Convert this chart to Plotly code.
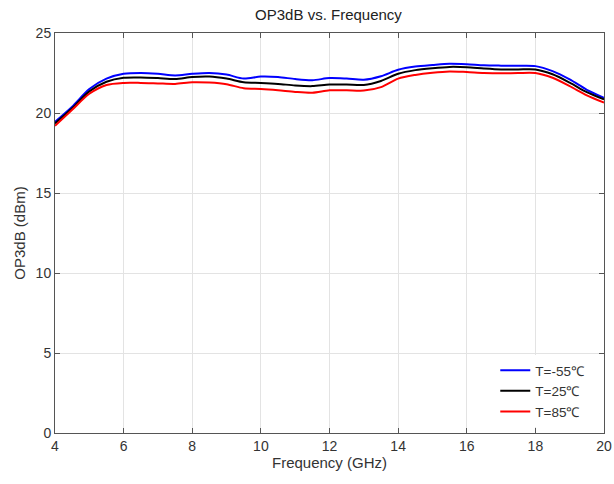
import plotly.graph_objects as go

freq = [4, 4.5, 5, 5.5, 6, 6.5, 7, 7.5, 8, 8.5, 9, 9.5, 10, 10.5, 11, 11.5, 12,
        12.5, 13, 13.5, 14, 14.5, 15, 15.5, 16, 16.5, 17, 17.5, 18, 18.5, 19, 19.5, 20]

op_m55 = [19.45, 20.4, 21.5, 22.15, 22.45, 22.5, 22.45, 22.35, 22.45, 22.5, 22.4, 22.15,
          22.28, 22.25, 22.12, 22.05, 22.18, 22.15, 22.08, 22.3, 22.7, 22.9, 23.0, 23.08,
          23.05, 22.98, 22.96, 22.95, 22.93, 22.62, 22.1, 21.45, 20.95]
op_25 = [19.35, 20.3, 21.35, 21.95, 22.2, 22.22, 22.18, 22.12, 22.25, 22.28, 22.15, 21.92,
         21.88, 21.82, 21.72, 21.68, 21.78, 21.78, 21.75, 22.0, 22.45, 22.68, 22.8, 22.88,
         22.86, 22.78, 22.72, 22.72, 22.72, 22.42, 21.9, 21.3, 20.85]
op_85 = [19.2, 20.2, 21.2, 21.75, 21.88, 21.88, 21.85, 21.82, 21.92, 21.9, 21.8, 21.55,
         21.5, 21.42, 21.32, 21.27, 21.42, 21.42, 21.4, 21.62, 22.15, 22.38, 22.52, 22.6,
         22.56, 22.5, 22.48, 22.5, 22.5, 22.2, 21.68, 21.1, 20.65]

series_names = ["T=-55℃", "T=25℃", "T=85℃"]
series_colors = ["#0000ff", "#000000", "#ff0000"]

x_ticks = [4, 6, 8, 10, 12, 14, 16, 18, 20]
y_ticks = [0, 5, 10, 15, 20, 25]

fig = go.Figure()
for name, ys, c in zip(series_names, [op_m55, op_25, op_85], series_colors):
    fig.add_trace(go.Scatter(x=freq, y=ys, mode="lines", name=name,
                             line=dict(color=c, width=2, shape="spline", smoothing=0.8)))

axis_common = dict(showline=True, linecolor="#555555", linewidth=1, mirror="ticks",
                   ticks="inside", ticklen=5, tickcolor="#555555",
                   showgrid=True, gridcolor="#e3e3e3", gridwidth=1, zeroline=False,
                   automargin=False,
                   tickfont=dict(size=14, color="#333333"))

fig.update_layout(
    width=614, height=484,
    margin=dict(l=55, r=10, t=33, b=51),
    paper_bgcolor="white", plot_bgcolor="white",
    font=dict(family="Arial, Liberation Sans, sans-serif", color="#333333"),
    title=dict(text="OP3dB vs. Frequency", x=0.535, xanchor="center", y=0.98, yanchor="top",
               font=dict(size=15, color="#222222")),
    xaxis=dict(range=[4, 20], tickvals=x_ticks,
               title=dict(text="Frequency (GHz)", font=dict(size=15, color="#333333"), standoff=4),
               **axis_common),
    yaxis=dict(range=[0, 25], tickvals=y_ticks,
               title=dict(text="OP3dB (dBm)", font=dict(size=15, color="#333333"), standoff=6),
               **axis_common),
    legend=dict(x=0.975, y=0.015, xanchor="right", yanchor="bottom",
                bgcolor="white", borderwidth=0, font=dict(size=13.5, color="#333333"),
                tracegroupgap=0),
    showlegend=True,
)

fig.write_html("out.html")
